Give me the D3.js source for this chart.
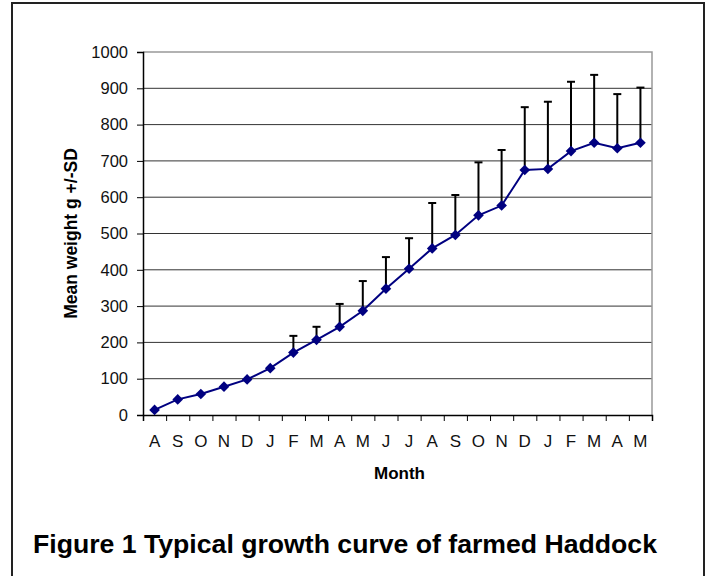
<!DOCTYPE html>
<html>
<head>
<meta charset="utf-8">
<script src="https://cdn.jsdelivr.net/npm/d3@7"></script>
<style>
  body { margin: 0; background: #fff; }
  text { font-family: Arial, "Liberation Sans", sans-serif; }
</style>
</head>
<body>
<div id="chart"></div>
<script>
// Data
const months = ['A', 'S', 'O', 'N', 'D', 'J', 'F', 'M', 'A', 'M', 'J', 'J', 'A', 'S', 'O', 'N', 'D', 'J', 'F', 'M', 'A', 'M']
const meanWeight = [14, 43, 58, 78, 98, 129, 172, 207, 243, 287, 348, 403, 459, 496, 550, 577, 675, 678, 727, 750, 735, 750]
const sdWeight = [0, 0, 0, 0, 0, 0, 46, 36, 63, 82, 87, 84, 125, 110, 146, 153, 173, 185, 191, 187, 149, 152]
const yTicks = [0, 100, 200, 300, 400, 500, 600, 700, 800, 900, 1000]

const totalWidth = 709
const totalHeight = 576
const margins = { top: 52, left: 143, right: 57, bottom: 161 }
const width = totalWidth - margins.left - margins.right
const height = totalHeight - margins.top - margins.bottom

const svg = d3.select('#chart').append('svg')
  .attr('width', totalWidth)
  .attr('height', totalHeight)

// outer frame
svg.append('rect')
  .attr('x', 12).attr('y', 3)
  .attr('width', 692).attr('height', 600)
  .attr('fill', 'none')
  .attr('stroke', '#222')
  .attr('stroke-width', 2)

const g = svg.append('g')
  .attr('transform', `translate(${margins.left}, ${margins.top})`)

const idx = months.map((m, i) => i)
const x = d3.scaleBand().domain(idx).range([0, width])
const xEdge = d3.scaleLinear().domain([0, months.length]).range([0, width])
const y = d3.scaleLinear().domain([0, 1000]).range([height, 0])

// gridlines
g.append('g')
  .selectAll('line')
  .data(yTicks.filter(t => t > 0 && t < 1000))
  .join('line')
  .attr('x1', 0).attr('x2', width)
  .attr('y1', d => y(d)).attr('y2', d => y(d))
  .attr('stroke', '#333')
  .attr('stroke-width', 1)

// top and right frame of the plot area
g.append('path')
  .attr('d', `M0,${y(1000)}H${width}V${height}`)
  .attr('fill', 'none')
  .attr('stroke', '#999')
  .attr('stroke-width', 1.5)

// y axis
const yAxis = g.append('g')
  .call(d3.axisLeft(y).tickValues(yTicks).tickFormat(d3.format('d')).tickSize(6).tickPadding(9))
yAxis.select('.domain').attr('stroke', '#000').attr('stroke-width', 1.5)
yAxis.selectAll('.tick line').attr('stroke', '#000')
yAxis.selectAll('.tick text')
  .style('font-size', '16.5px')
  .attr('fill', '#111')

// x axis: ticks on category boundaries
const xAxis = g.append('g')
  .attr('transform', `translate(0, ${height})`)
  .call(d3.axisBottom(xEdge).tickValues(d3.range(months.length + 1)).tickSize(6).tickFormat(''))
xAxis.select('.domain').attr('stroke', '#000').attr('stroke-width', 1.5)
xAxis.selectAll('.tick line').attr('stroke', '#000')

const xLabels = g.append('g')
  .attr('transform', `translate(0, ${height})`)
  .call(d3.axisBottom(x).tickSize(0).tickPadding(20).tickFormat(i => months[i]))
xLabels.select('.domain').remove()
xLabels.selectAll('.tick text')
  .style('font-size', '17px')
  .attr('fill', '#111')

// axis titles
g.append('text')
  .attr('x', width / 2 + 2)
  .attr('y', height + 64)
  .attr('text-anchor', 'middle')
  .style('font-size', '17px')
  .style('font-weight', 'bold')
  .text('Month')

g.append('text')
  .attr('transform', `translate(${77 - margins.left}, ${height / 2}) rotate(-90)`)
  .attr('text-anchor', 'middle')
  .style('font-size', '17.5px')
  .style('font-weight', 'bold')
  .text('Mean weight g +/-SD')

// error bars (upper only)
const bars = g.append('g')
  .selectAll('g')
  .data(idx.filter(i => sdWeight[i] > 0))
  .join('g')
bars.append('line')
  .attr('x1', i => x(i) + x.bandwidth() / 2)
  .attr('x2', i => x(i) + x.bandwidth() / 2)
  .attr('y1', i => y(meanWeight[i]))
  .attr('y2', i => y(meanWeight[i] + sdWeight[i]))
  .attr('stroke', '#000')
  .attr('stroke-width', 2)
bars.append('line')
  .attr('x1', i => x(i) + x.bandwidth() / 2 - 4)
  .attr('x2', i => x(i) + x.bandwidth() / 2 + 4)
  .attr('y1', i => y(meanWeight[i] + sdWeight[i]))
  .attr('y2', i => y(meanWeight[i] + sdWeight[i]))
  .attr('stroke', '#000')
  .attr('stroke-width', 2)

// growth line
const lineGen = d3.line()
  .x(i => x(i) + x.bandwidth() / 2)
  .y(i => y(meanWeight[i]))

g.append('path')
  .attr('d', lineGen(idx))
  .attr('fill', 'none')
  .attr('stroke', '#000080')
  .attr('stroke-width', 2)

g.append('g')
  .selectAll('path')
  .data(idx)
  .join('path')
  .attr('transform', i => `translate(${x(i) + x.bandwidth() / 2}, ${y(meanWeight[i])})`)
  .attr('d', d3.symbol(d3.symbolDiamond2, 72))
  .attr('fill', '#000080')

// caption
svg.append('text')
  .attr('x', 33)
  .attr('y', 553)
  .attr('textLength', 624)
  .attr('lengthAdjust', 'spacingAndGlyphs')
  .style('font-size', '26px')
  .style('font-weight', 'bold')
  .text('Figure 1 Typical growth curve of farmed Haddock')
</script>
</body>
</html>
